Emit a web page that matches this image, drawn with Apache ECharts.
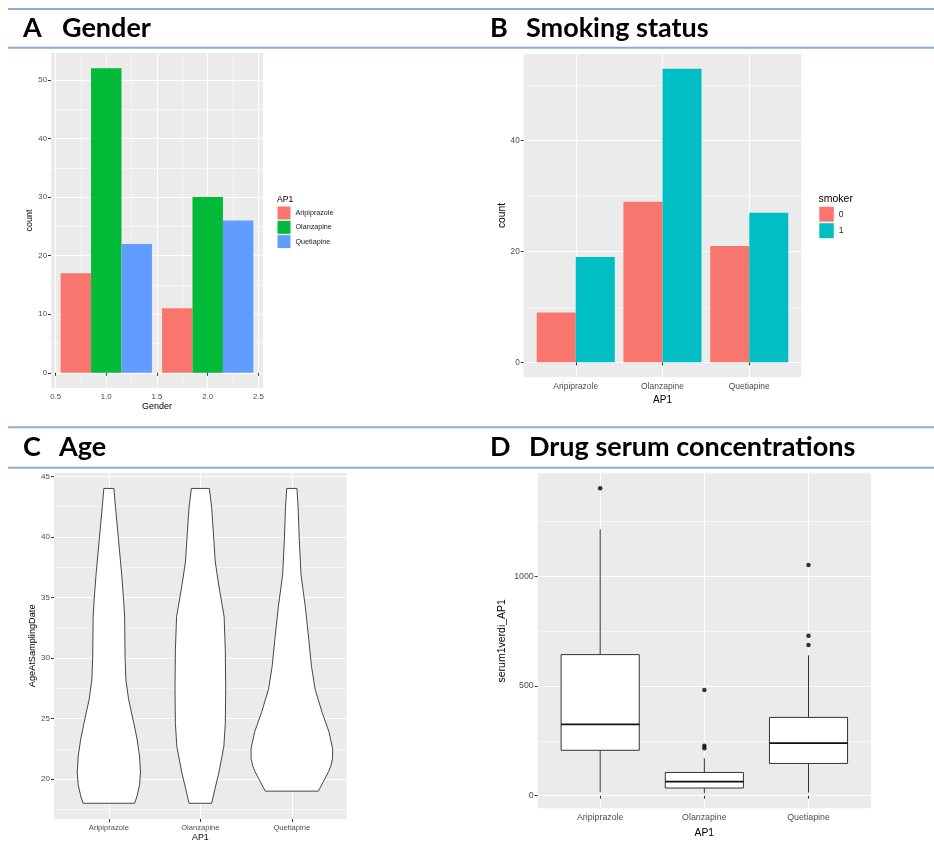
<!DOCTYPE html>
<html>
<head>
<meta charset="utf-8">
<script src="https://cdn.jsdelivr.net/npm/echarts@6/dist/echarts.min.js"></script>
<style>
  html, body { margin: 0; padding: 0; background: #fff; }
  #main { width: 934px; height: 843px; }
</style>
</head>
<body>
<div id="main"></div>
<script>
// ---- data ----
// A: counts per gender and drug
const genderLevels = [1, 2];
const genderAripiprazole = [17, 11];
const genderOlanzapine = [52, 30];
const genderQuetiapine = [22, 26];
const genderTicks = [0.5, 1.0, 1.5, 2.0, 2.5];
const countTicksA = [0, 10, 20, 30, 40, 50];

// B: counts per drug and smoking status
const drugs = ['Aripiprazole', 'Olanzapine', 'Quetiapine'];
const smoker0 = [9, 29, 21];
const smoker1 = [19, 53, 27];
const countTicksB = [0, 20, 40];

// C: violin outlines, age and half width (x units)
const ariAge = [18.0, 18.6, 19.5, 20.5, 21.9, 23.3, 24.6, 26.6, 28.2, 30.1, 33.4, 34.8, 36.9, 39.7, 42.4, 44.0];
const ariHalf = [0.282, 0.308, 0.335, 0.346, 0.335, 0.308, 0.273, 0.215, 0.186, 0.177, 0.172, 0.161, 0.140, 0.106, 0.073, 0.055];
const olaAge = [18.0, 19.2, 20.5, 22.7, 24.6, 27.4, 30.6, 33.4, 36.1, 38.0, 39.7, 42.4, 44.0];
const olaHalf = [0.124, 0.160, 0.202, 0.257, 0.273, 0.277, 0.273, 0.260, 0.199, 0.162, 0.148, 0.124, 0.098];
const queAge = [19.0, 19.8, 20.6, 21.1, 21.7, 22.5, 23.9, 25.5, 27.4, 29.3, 31.5, 34.2, 36.9, 39.7, 42.4, 44.0];
const queHalf = [0.290, 0.346, 0.401, 0.428, 0.445, 0.446, 0.406, 0.331, 0.255, 0.215, 0.186, 0.148, 0.100, 0.082, 0.069, 0.056];
const ageTicks = [20, 25, 30, 35, 40, 45];

// D: box plot stats and outliers
const serumLow = [15, 11, 14];
const serumQ1 = [207, 35, 147];
const serumMedian = [325, 64, 240];
const serumQ3 = [643, 106, 357];
const serumHigh = [1214, 170, 640];
const serumOutliers = [[1, 1401], [2, 482], [2, 228], [2, 216], [3, 1052], [3, 729], [3, 687]];
const serumTicks = [0, 500, 1000];

const hue3 = ['#F8766D', '#00BA38', '#619CFF'];
const hue2 = ['#F8766D', '#00BFC4'];
const FONT = 'Liberation Sans';

let chart = echarts.init(document.getElementById('main'), null, { renderer: 'canvas' });

function xAxis(grid, min, max, ticks, fmt, fs, name, gap, nameFs, minor) {
  return {
    type: 'value', gridIndex: grid, min: min, max: max, splitNumber: 4,
    name: name, nameLocation: 'middle', nameGap: gap,
    nameTextStyle: { color: '#000', fontSize: nameFs, fontFamily: FONT },
    axisLine: { show: false },
    axisTick: { show: true, length: 3, customValues: ticks, lineStyle: { color: '#333', width: 1 } },
    axisLabel: { customValues: ticks, formatter: fmt, color: '#4D4D4D', fontSize: fs, fontFamily: FONT, margin: 5 },
    splitLine: { show: true, lineStyle: { color: '#fff', width: 1.1 } },
    minorTick: { show: false, splitNumber: 2 },
    minorSplitLine: { show: minor, lineStyle: { color: '#fff', width: 0.5 } }
  };
}

function yAxis(grid, min, max, split, ticks, fs, name, gap, nameFs) {
  return {
    type: 'value', gridIndex: grid, min: min, max: max, splitNumber: split,
    name: name, nameLocation: 'middle', nameGap: gap, nameRotate: 90,
    nameTextStyle: { color: '#000', fontSize: nameFs, fontFamily: FONT },
    axisLine: { show: false },
    axisTick: { show: true, length: 3, customValues: ticks, lineStyle: { color: '#333', width: 1 } },
    axisLabel: { customValues: ticks, formatter: function (v) { return String(v); },
      color: '#4D4D4D', fontSize: fs, fontFamily: FONT, margin: 4 },
    splitLine: { show: true, lineStyle: { color: '#fff', width: 1.1 } },
    minorTick: { show: false, splitNumber: 2 },
    minorSplitLine: { show: true, lineStyle: { color: '#fff', width: 0.5 } }
  };
}

// bars drawn through the axis scales
function barRender(width) {
  return function (params, api) {
    const x = api.value(0), y = api.value(1);
    const p0 = api.coord([x - width / 2, y]);
    const p1 = api.coord([x + width / 2, 0]);
    return {
      type: 'rect',
      shape: { x: p0[0], y: p0[1], width: p1[0] - p0[0], height: p1[1] - p0[1] },
      style: { fill: api.visual('color') }
    };
  };
}

const violins = [[ariAge, ariHalf], [olaAge, olaHalf], [queAge, queHalf]];
function violinRender(params, api) {
  const c = api.value(0);
  const ages = violins[params.dataIndex][0];
  const half = violins[params.dataIndex][1];
  const pts = [];
  for (let i = 0; i < ages.length; i++) pts.push(api.coord([c + half[i], ages[i]]));
  for (let i = ages.length - 1; i >= 0; i--) pts.push(api.coord([c - half[i], ages[i]]));
  return {
    type: 'polygon',
    shape: { points: pts },
    style: { fill: '#fff', stroke: '#333', lineWidth: 0.9 }
  };
}

function boxRender(params, api) {
  const x = api.value(0);
  const w = 0.375;
  const low = api.coord([x, api.value(1)]);
  const q1l = api.coord([x - w, api.value(2)]);
  const q1 = api.coord([x, api.value(2)]);
  const medL = api.coord([x - w, api.value(3)]);
  const medR = api.coord([x + w, api.value(3)]);
  const q3 = api.coord([x, api.value(4)]);
  const q3r = api.coord([x + w, api.value(4)]);
  const high = api.coord([x, api.value(5)]);
  const line = { stroke: '#333', lineWidth: 1 };
  return {
    type: 'group',
    children: [
      { type: 'line', shape: { x1: low[0], y1: low[1], x2: q1[0], y2: q1[1] }, style: line },
      { type: 'line', shape: { x1: q3[0], y1: q3[1], x2: high[0], y2: high[1] }, style: line },
      { type: 'rect', shape: { x: q1l[0], y: q3r[1], width: q3r[0] - q1l[0], height: q1l[1] - q3r[1] },
        style: { fill: '#fff', stroke: '#333', lineWidth: 1 } },
      { type: 'line', shape: { x1: medL[0], y1: medL[1], x2: medR[0], y2: medR[1] }, style: { stroke: '#111', lineWidth: 1.7 } }
    ]
  };
}

const dodgeA = 0.3;
const seriesA = [genderAripiprazole, genderOlanzapine, genderQuetiapine].map(function (vals, i) {
  return {
    type: 'custom', name: drugs[i], xAxisIndex: 0, yAxisIndex: 0,
    itemStyle: { color: hue3[i] },
    renderItem: barRender(dodgeA),
    encode: { x: 0, y: 1 },
    data: genderLevels.map(function (g, k) { return [g - 0.45 + dodgeA * (i + 0.5), vals[k]]; })
  };
});

const dodgeB = 0.45;
const seriesB = [smoker0, smoker1].map(function (vals, j) {
  return {
    type: 'custom', name: String(j), xAxisIndex: 1, yAxisIndex: 1,
    itemStyle: { color: hue2[j] },
    renderItem: barRender(dodgeB),
    encode: { x: 0, y: 1 },
    data: vals.map(function (v, k) { return [k + 1 - 0.45 + dodgeB * (j + 0.5), v]; })
  };
});

const drugFmt = function (v) { return drugs[Math.round(v) - 1] || ''; };

const headerLine = { stroke: '#8EAADB', lineWidth: 2 };
const headFont = 'bold 27px Lato';
function head(x, y, t) {
  return { type: 'text', x: x, y: y, style: { text: t, font: headFont, fill: '#000', textVerticalAlign: 'middle' } };
}

let option = {
  animation: false,
  backgroundColor: '#fff',
  grid: [
    { left: 51, top: 53, width: 212, height: 335, show: true, backgroundColor: '#EBEBEB', borderWidth: 0 },
    { left: 523.7, top: 54, width: 277.6, height: 323, show: true, backgroundColor: '#EBEBEB', borderWidth: 0 },
    { left: 54, top: 472.7, width: 292.7, height: 348, show: true, backgroundColor: '#EBEBEB', borderWidth: 0 },
    { left: 537.7, top: 473.3, width: 333.3, height: 335, show: true, backgroundColor: '#EBEBEB', borderWidth: 0 }
  ],
  xAxis: [
    xAxis(0, 0.455, 2.545, genderTicks, function (v) { return v.toFixed(1); }, 7.8, 'Gender', 14, 9, true),
    xAxis(1, 0.4, 3.6, [1, 2, 3], drugFmt, 8.5, 'AP1', 18, 10, false),
    xAxis(2, 0.4, 3.6, [1, 2, 3], drugFmt, 7.6, 'AP1', 14, 8.8, false),
    xAxis(3, 0.4, 3.6, [1, 2, 3], drugFmt, 8.8, 'AP1', 19.5, 10.3, false)
  ],
  yAxis: [
    yAxis(0, -2.6, 54.6, 5, countTicksA, 7.8, 'count', 11, 9),
    yAxis(1, -2.65, 55.65, 3, countTicksB, 8.2, 'count', 17, 10.3),
    yAxis(2, 16.7, 45.3, 6, ageTicks, 8, 'AgeAtSamplingDate', 16, 9.2),
    yAxis(3, -57.4, 1469.4, 3, serumTicks, 8.8, 'serum1verdi_AP1', 30, 10.5)
  ],
  legend: [
    {
      data: drugs, orient: 'vertical', left: 277.5, top: 206.5, padding: 0,
      itemWidth: 13, itemHeight: 13, itemGap: 1.3, icon: 'rect', selectedMode: false,
      textStyle: { fontSize: 7.2, color: '#1a1a1a', fontFamily: FONT }
    },
    {
      data: ['0', '1'], orient: 'vertical', left: 819.3, top: 206.7, padding: 0,
      itemWidth: 14.5, itemHeight: 15, itemGap: 1.5, icon: 'rect', selectedMode: false,
      textStyle: { fontSize: 8.5, color: '#1a1a1a', fontFamily: FONT }
    }
  ],
  series: seriesA.concat(seriesB).concat([
    {
      type: 'custom', name: 'violin', xAxisIndex: 2, yAxisIndex: 2,
      renderItem: violinRender, encode: { x: 0, y: 1 },
      data: [[1, 30], [2, 30], [3, 30]]
    },
    {
      type: 'custom', name: 'box', xAxisIndex: 3, yAxisIndex: 3,
      renderItem: boxRender, encode: { x: 0, y: [1, 2, 3, 4, 5] },
      data: drugs.map(function (d, i) {
        return [i + 1, serumLow[i], serumQ1[i], serumMedian[i], serumQ3[i], serumHigh[i]];
      })
    },
    {
      type: 'scatter', name: 'outlier', xAxisIndex: 3, yAxisIndex: 3,
      symbolSize: 4.5, itemStyle: { color: '#000' }, data: serumOutliers
    }
  ]),
  graphic: [
    { type: 'line', shape: { x1: 8, y1: 9, x2: 934, y2: 9 }, style: headerLine },
    { type: 'line', shape: { x1: 8, y1: 47.7, x2: 934, y2: 47.7 }, style: headerLine },
    { type: 'line', shape: { x1: 8, y1: 427.3, x2: 934, y2: 427.3 }, style: headerLine },
    { type: 'line', shape: { x1: 8, y1: 467.7, x2: 934, y2: 467.7 }, style: headerLine },
    head(23, 28, 'A'), head(62, 28, 'Gender'),
    head(490, 28, 'B'), head(526, 28, 'Smoking status'),
    head(23, 447.5, 'C'), head(59, 447.5, 'Age'),
    head(490, 447.5, 'D'), head(529, 447.5, 'Drug serum concentrations'),
    { type: 'text', x: 277, y: 199.5, style: { text: 'AP1', font: '8.6px "Liberation Sans"', fill: '#000', textVerticalAlign: 'middle' } },
    { type: 'text', x: 818.5, y: 199.5, style: { text: 'smoker', font: '10.5px "Liberation Sans"', fill: '#000', textVerticalAlign: 'middle' } }
  ]
};

chart.setOption(option);
</script>
</body>
</html>
